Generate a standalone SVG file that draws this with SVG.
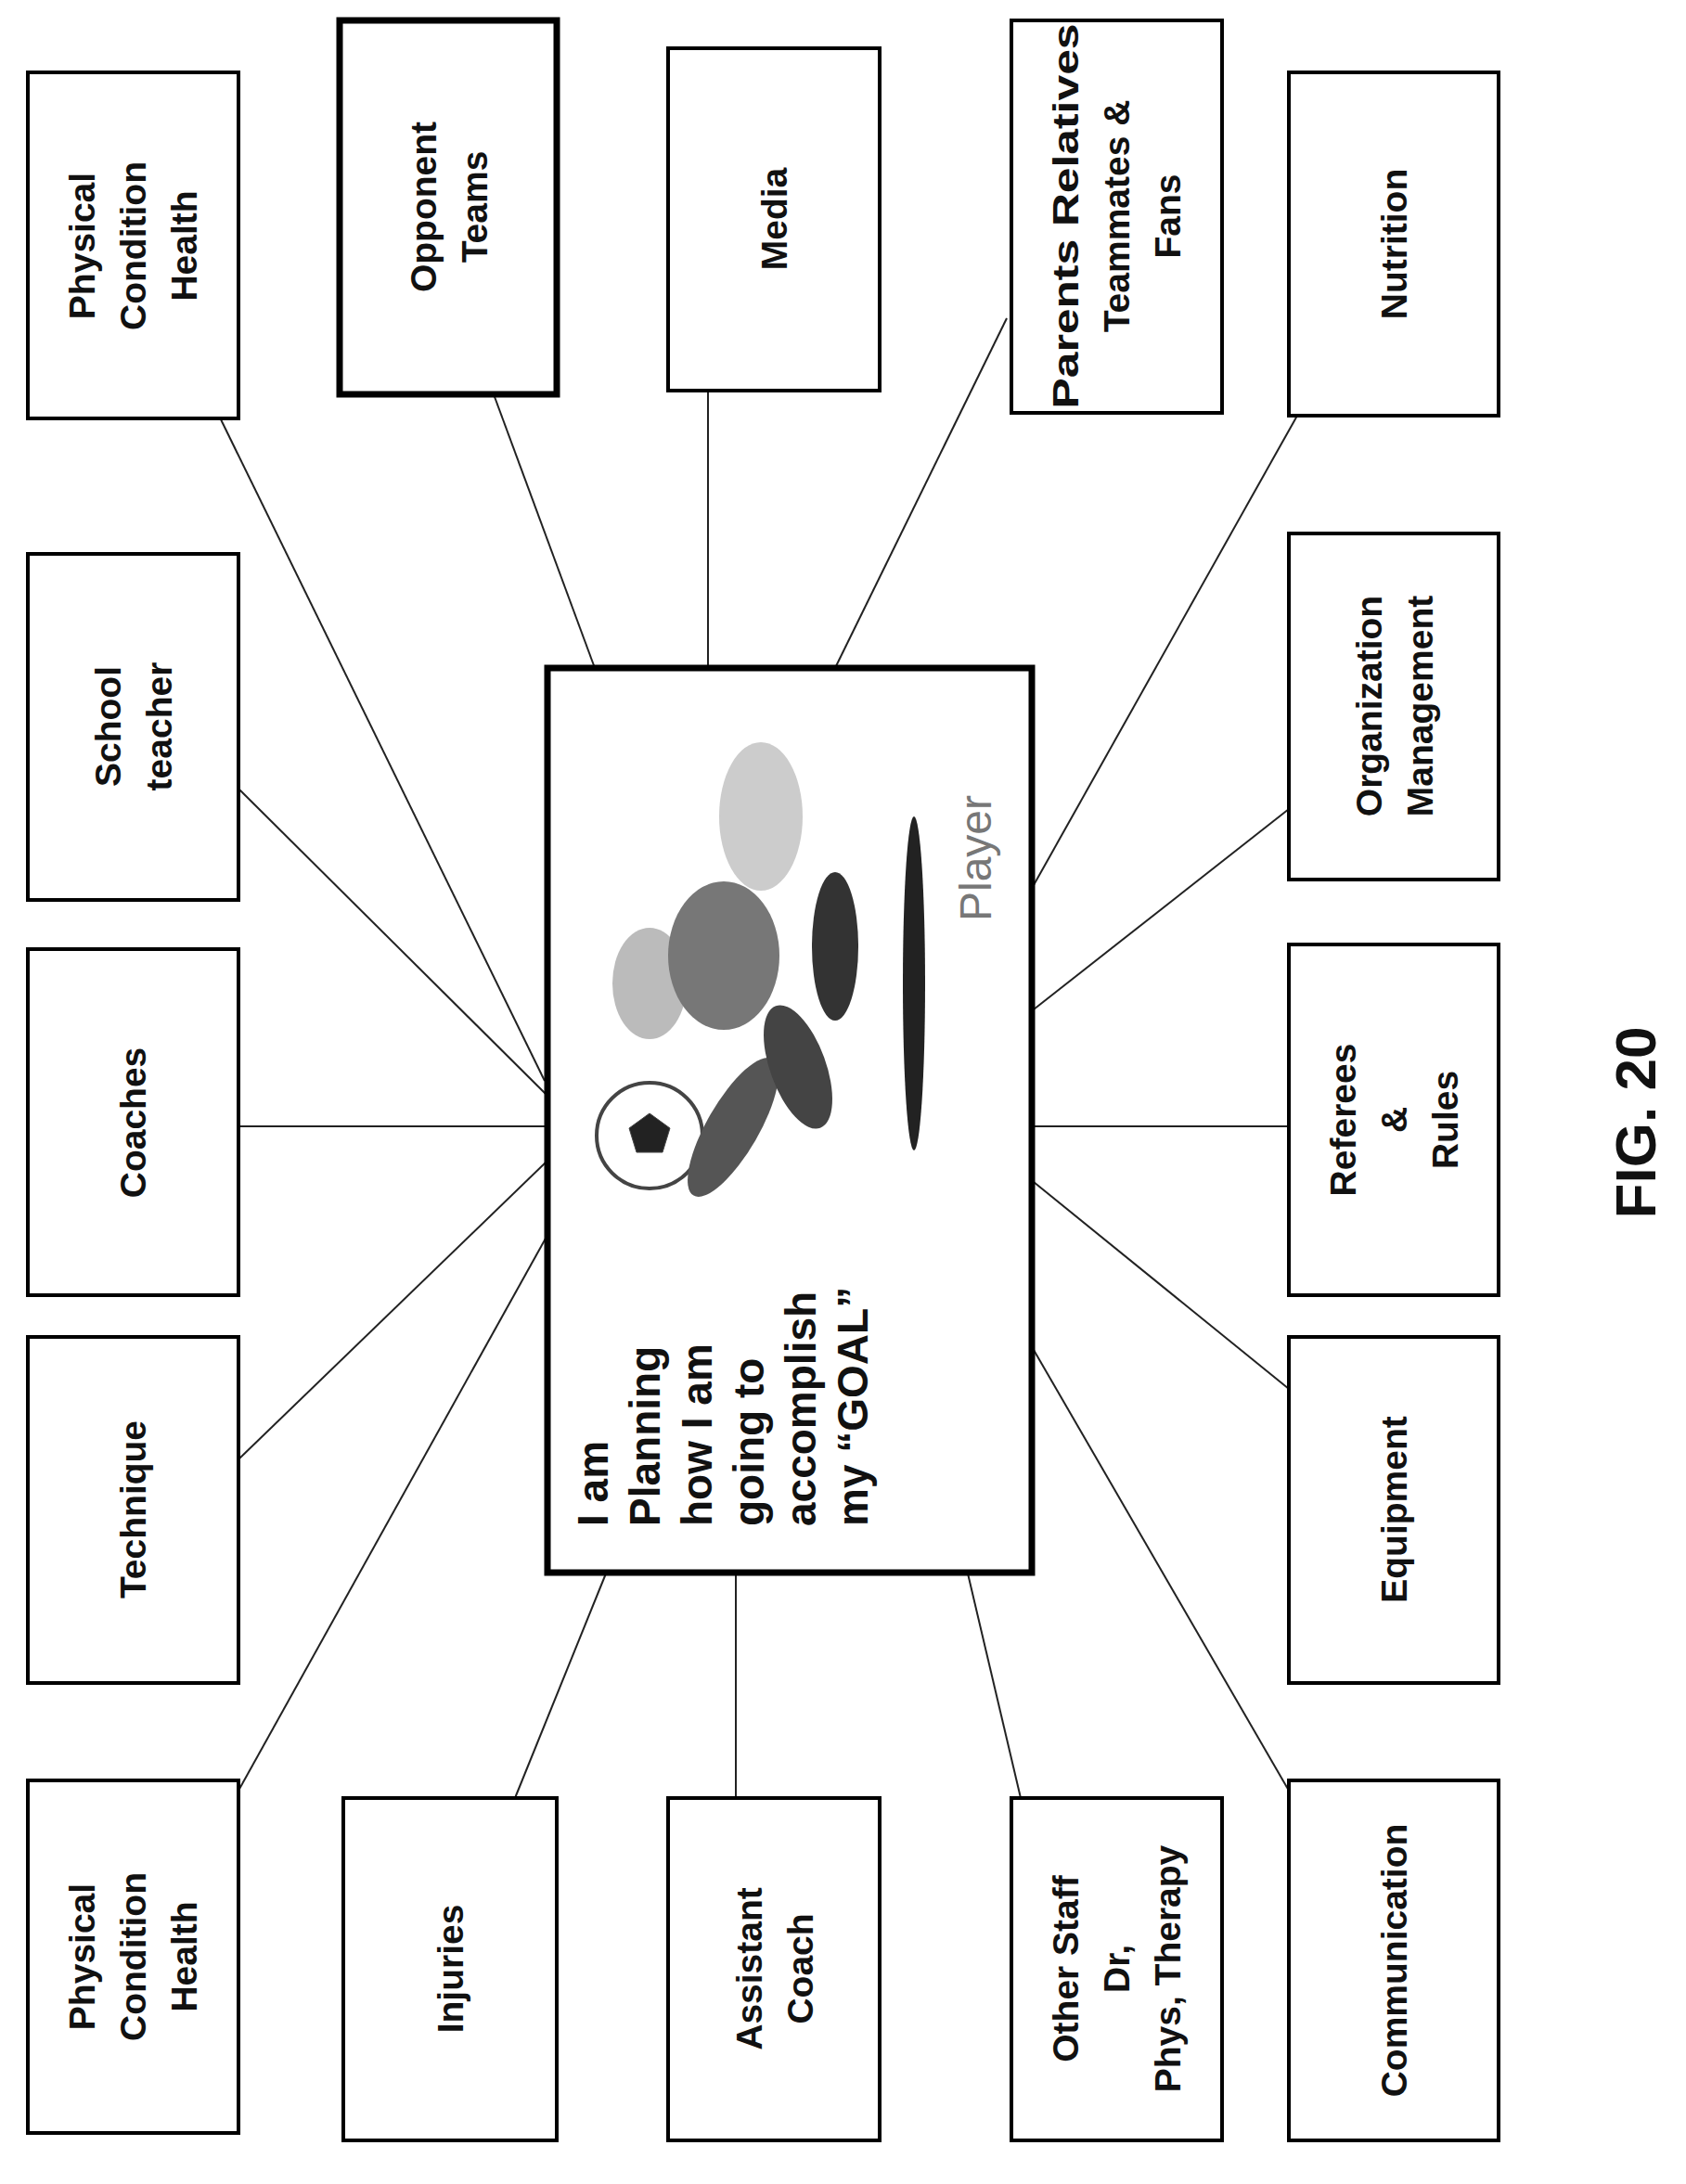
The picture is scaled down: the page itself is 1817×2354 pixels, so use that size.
<svg xmlns="http://www.w3.org/2000/svg" width="1817" height="2354" viewBox="0 0 1817 2354">
<style>
.b{fill:#fff;stroke:#000;stroke-width:4}
.t{fill:#fff;stroke:#000;stroke-width:7}
text{font-family:"Liberation Sans",Arial,sans-serif;font-size:39px;font-weight:bold;text-anchor:middle;fill:#111}
.c{font-size:46px;text-anchor:start}
#connectors line{stroke:#222;stroke-width:2}
</style>
<rect width="1817" height="2354" fill="#fff"/>
<g id="connectors">
<line x1="236" y1="448" x2="587" y2="1165"/>
<line x1="257" y1="850" x2="589" y2="1180"/>
<line x1="257" y1="1214" x2="589" y2="1214"/>
<line x1="257" y1="1573" x2="589" y2="1252"/>
<line x1="257" y1="1930" x2="589" y2="1333"/>
<line x1="555" y1="1938" x2="653" y2="1696"/>
<line x1="793" y1="1938" x2="793" y2="1696"/>
<line x1="1100" y1="1938" x2="1043" y2="1696"/>
<line x1="1389" y1="1930" x2="1114" y2="1455"/>
<line x1="1389" y1="1497" x2="1114" y2="1274"/>
<line x1="1389" y1="1214" x2="1114" y2="1214"/>
<line x1="1389" y1="872" x2="1114" y2="1088"/>
<line x1="1398" y1="448" x2="1114" y2="954"/>
<line x1="1085" y1="343" x2="900" y2="720"/>
<line x1="763" y1="421" x2="763" y2="720"/>
<line x1="532" y1="425" x2="641" y2="720"/>
</g>
<g id="center">
<rect class="t" x="590" y="720" width="522" height="975"/>
<text class="c" transform="translate(655,1645) rotate(-90)"><tspan x="0" y="0">I am</tspan><tspan x="0" y="56">Planning</tspan><tspan x="0" y="112">how I am</tspan><tspan x="0" y="168">going to</tspan><tspan x="0" y="224">accomplish</tspan><tspan x="0" y="280">my “GOAL”</tspan></text>
<text transform="translate(1068,925) rotate(-90)" style="font-size:48px;font-weight:normal;fill:#777">Player</text>
<g id="figure" fill="none" stroke="#444">
<circle cx="700" cy="1224" r="57" stroke-width="4" fill="#fff"/>
<polygon points="700,1200 722,1216 714,1242 686,1242 678,1216" fill="#222"/>
<ellipse cx="790" cy="1215" rx="28" ry="85" transform="rotate(30 790 1215)" fill="#555" stroke="none"/>
<ellipse cx="700" cy="1060" rx="40" ry="60" fill="#bbb" stroke="none"/>
<ellipse cx="780" cy="1030" rx="60" ry="80" fill="#777" stroke="none"/>
<ellipse cx="820" cy="880" rx="45" ry="80" fill="#ccc" stroke="none"/>
<ellipse cx="900" cy="1020" rx="25" ry="80" fill="#333" stroke="none"/>
<ellipse cx="985" cy="1060" rx="12" ry="180" fill="#222" stroke="none"/>
<ellipse cx="860" cy="1150" rx="30" ry="70" transform="rotate(-20 860 1150)" fill="#444" stroke="none"/>
</g>
</g>
<g id="n1"><rect class="b" x="30" y="78" width="227" height="373"/><text transform="translate(143,265) rotate(-90)"><tspan x="0" y="-41">Physical</tspan><tspan x="0" y="14">Condition</tspan><tspan x="0" y="69">Health</tspan></text></g>
<g id="n2"><rect class="b" x="30" y="597" width="227" height="373"/><text transform="translate(143,783) rotate(-90)"><tspan x="0" y="-13">School</tspan><tspan x="0" y="42">teacher</tspan></text></g>
<g id="n3"><rect class="b" x="30" y="1023" width="227" height="373"/><text transform="translate(143,1210) rotate(-90)"><tspan x="0" y="14">Coaches</tspan></text></g>
<g id="n4"><rect class="b" x="30" y="1441" width="227" height="373"/><text transform="translate(143,1627) rotate(-90)"><tspan x="0" y="14">Technique</tspan></text></g>
<g id="n5"><rect class="b" x="30" y="1919" width="227" height="380"/><text transform="translate(143,2109) rotate(-90)"><tspan x="0" y="-41">Physical</tspan><tspan x="0" y="14">Condition</tspan><tspan x="0" y="69">Health</tspan></text></g>
<g id="n6"><rect class="t" x="366" y="22" width="234" height="403"/><text transform="translate(483,223) rotate(-90)"><tspan x="0" y="-13">Opponent</tspan><tspan x="0" y="42">Teams</tspan></text></g>
<g id="n7"><rect class="b" x="720" y="52" width="228" height="369"/><text transform="translate(834,236) rotate(-90)"><tspan x="0" y="14">Media</tspan></text></g>
<g id="n8"><rect class="b" x="1090" y="22" width="227" height="423"/><text transform="translate(1203,233) rotate(-90)"><tspan x="0" y="-41" textLength="415" lengthAdjust="spacingAndGlyphs">Parents Relatives</tspan><tspan x="0" y="14">Teammates &amp;</tspan><tspan x="0" y="69">Fans</tspan></text></g>
<g id="n9"><rect class="b" x="1389" y="78" width="226" height="370"/><text transform="translate(1502,263) rotate(-90)"><tspan x="0" y="14">Nutrition</tspan></text></g>
<g id="n10"><rect class="b" x="1389" y="575" width="226" height="373"/><text transform="translate(1502,761) rotate(-90)"><tspan x="0" y="-13">Organization</tspan><tspan x="0" y="42">Management</tspan></text></g>
<g id="n11"><rect class="b" x="1389" y="1018" width="226" height="378"/><text transform="translate(1502,1207) rotate(-90)"><tspan x="0" y="-41">Referees</tspan><tspan x="0" y="14">&amp;</tspan><tspan x="0" y="69">Rules</tspan></text></g>
<g id="n12"><rect class="b" x="1389" y="1441" width="226" height="373"/><text transform="translate(1502,1627) rotate(-90)"><tspan x="0" y="14">Equipment</tspan></text></g>
<g id="n13"><rect class="b" x="1389" y="1919" width="226" height="388"/><text transform="translate(1502,2113) rotate(-90)"><tspan x="0" y="14">Communication</tspan></text></g>
<g id="n14"><rect class="b" x="370" y="1938" width="230" height="369"/><text transform="translate(485,2122) rotate(-90)"><tspan x="0" y="14">Injuries</tspan></text></g>
<g id="n15"><rect class="b" x="720" y="1938" width="228" height="369"/><text transform="translate(834,2122) rotate(-90)"><tspan x="0" y="-13">Assistant</tspan><tspan x="0" y="42">Coach</tspan></text></g>
<g id="n16"><rect class="b" x="1090" y="1938" width="227" height="369"/><text transform="translate(1203,2122) rotate(-90)"><tspan x="0" y="-41">Other Staff</tspan><tspan x="0" y="14">Dr,</tspan><tspan x="0" y="69">Phys, Therapy</tspan></text></g>
<text transform="translate(1762,1210) rotate(-90)" style="font-size:62px" dy="22">FIG. 20</text>
</svg>
